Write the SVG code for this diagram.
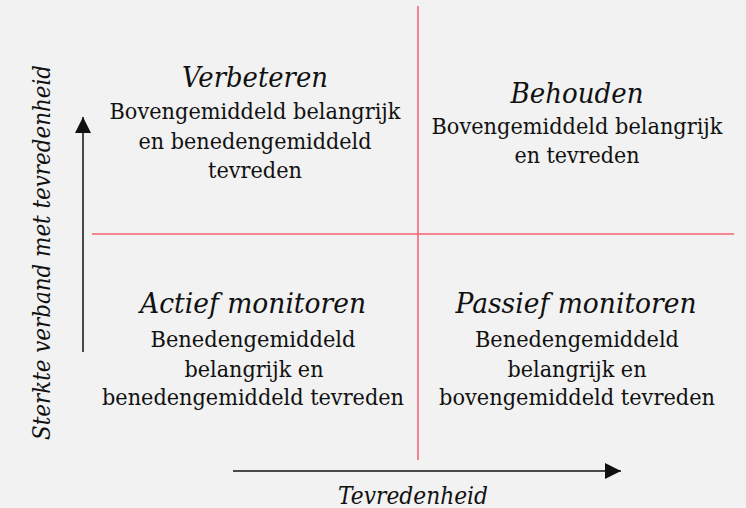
<svg xmlns="http://www.w3.org/2000/svg" width="746" height="508" viewBox="0 0 746 508">
<style>
text{font-family:"DejaVu Serif","Liberation Serif",serif;fill:#111;text-anchor:middle}
.t{font-style:italic;font-size:27px}
.b{font-size:23px}
.ax{font-style:italic;font-size:24px}
.red{stroke:#f2606e;stroke-width:1.5;fill:none}
.blk{stroke:#111;stroke-width:1.5;fill:none}
</style>
<defs>
<marker id="ah" viewBox="0 0 16 16" refX="16" refY="8" markerWidth="16" markerHeight="16" markerUnits="userSpaceOnUse" orient="auto">
<path d="M0,0 L16,8 L0,16 Z" fill="#111"/>
</marker>
</defs>
<rect width="746" height="508" fill="#f2f2f2"/>
<g id="connectors">
<line class="red" x1="418" y1="6" x2="418" y2="460"/>
<line class="red" x1="92" y1="234" x2="734" y2="234"/>
<line class="blk" x1="83" y1="352" x2="83" y2="117" marker-end="url(#ah)"/>
<line class="blk" x1="233" y1="471" x2="621" y2="471" marker-end="url(#ah)"/>
</g>
<g id="verbeteren">
<text class="t" x="255" y="87" textLength="146" lengthAdjust="spacingAndGlyphs">Verbeteren</text>
<text class="b" x="255" y="119" textLength="291" lengthAdjust="spacingAndGlyphs">Bovengemiddeld belangrijk</text>
<text class="b" x="255" y="149" textLength="233" lengthAdjust="spacingAndGlyphs">en benedengemiddeld</text>
<text class="b" x="255" y="178" textLength="94" lengthAdjust="spacingAndGlyphs">tevreden</text>
</g>
<g id="behouden">
<text class="t" x="577" y="103" textLength="133" lengthAdjust="spacingAndGlyphs">Behouden</text>
<text class="b" x="577" y="134" textLength="291" lengthAdjust="spacingAndGlyphs">Bovengemiddeld belangrijk</text>
<text class="b" x="577" y="163" textLength="125" lengthAdjust="spacingAndGlyphs">en tevreden</text>
</g>
<g id="actief">
<text class="t" x="253" y="313" textLength="226" lengthAdjust="spacingAndGlyphs">Actief monitoren</text>
<text class="b" x="253" y="347" textLength="205" lengthAdjust="spacingAndGlyphs">Benedengemiddeld</text>
<text class="b" x="254" y="377" textLength="139" lengthAdjust="spacingAndGlyphs">belangrijk en</text>
<text class="b" x="253" y="405" textLength="302" lengthAdjust="spacingAndGlyphs">benedengemiddeld tevreden</text>
</g>
<g id="passief">
<text class="t" x="576" y="313" textLength="241" lengthAdjust="spacingAndGlyphs">Passief monitoren</text>
<text class="b" x="577" y="347" textLength="204" lengthAdjust="spacingAndGlyphs">Benedengemiddeld</text>
<text class="b" x="577" y="377" textLength="139" lengthAdjust="spacingAndGlyphs">belangrijk en</text>
<text class="b" x="577" y="405" textLength="276" lengthAdjust="spacingAndGlyphs">bovengemiddeld tevreden</text>
</g>
<g id="axis-labels">
<text class="ax" x="413" y="504" textLength="150" lengthAdjust="spacingAndGlyphs">Tevredenheid</text>
<text class="ax" transform="translate(50,252.5) rotate(-90)" x="0" y="0" textLength="375" lengthAdjust="spacingAndGlyphs">Sterkte verband met tevredenheid</text>
</g>
</svg>
